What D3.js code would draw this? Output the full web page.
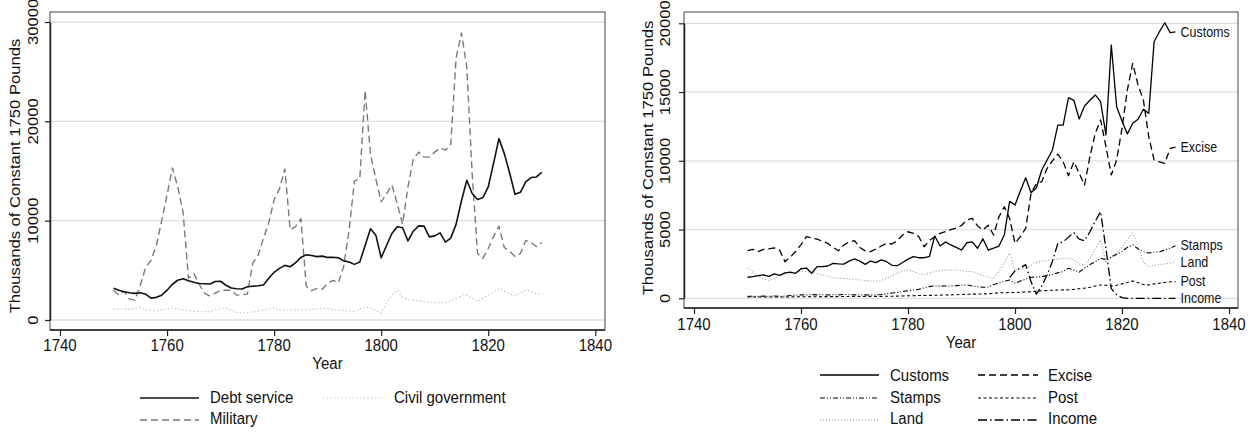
<!DOCTYPE html>
<html>
<head>
<meta charset="utf-8">
<script src="https://cdn.jsdelivr.net/npm/d3@7"></script>
<style>
  body { margin: 0; background: #fff; }
  svg { display: block; font-family: "Liberation Sans", Arial, Helvetica, sans-serif; }
</style>
</head>
<body>
<svg width="1259" height="433"></svg>
<script>
// Data (thousands of constant 1750 pounds), one value per year 1750-1830
const years = d3.range(1750, 1831);
const x_ticks = [1740, 1760, 1780, 1800, 1820, 1840];
const left_y_ticks = [0, 10000, 20000, 30000];
const right_y_ticks = [0, 5000, 10000, 15000, 20000];

const debt_service = [3200, 3000, 2850, 2750, 2680, 2750, 2600, 2200, 2280, 2500,
  3000, 3600, 4000, 4150, 3950, 3800, 3680, 3650, 3620, 3880,
  3900, 3500, 3220, 3150, 3120, 3350, 3400, 3450, 3520, 4200,
  4800, 5200, 5500, 5360, 5760, 6300, 6560, 6500, 6380, 6430,
  6300, 6300, 6260, 5950, 5830, 5600, 5830, 7500, 9180, 8540,
  6260, 7500, 8710, 9380, 9280, 7970, 8940, 9480, 9450, 8370,
  8470, 8770, 7840, 8240, 9650, 12000, 14070, 12730, 12130, 12330,
  13400, 15800, 18260, 16750, 14800, 12660, 12860, 13900, 14340, 14400,
  14870];
const military = [3000, 2500, 2900, 2100, 2000, 3500, 5300, 6000, 7500, 10000,
  12600, 15300, 13400, 10800, 4200, 4700, 3600, 2700, 2400, 2700,
  3000, 3000, 3000, 2500, 2550, 2600, 5700, 6500, 8200, 9800,
  12100, 13200, 15200, 9100, 9400, 10200, 3400, 2950, 3180, 3100,
  3700, 4000, 3750, 5400, 9000, 14000, 14200, 23100, 16700, 14200,
  11900, 12700, 13600, 11700, 9650, 13400, 16200, 16900, 16400, 16400,
  16900, 17300, 17100, 17700, 26400, 28900, 25400, 14700, 6700, 6200,
  7200, 8400, 9450, 7300, 6900, 6400, 6700, 8000, 7800, 7400,
  7800];
const civil_government = [1100, 1100, 1100, 1050, 1200, 1250, 1000, 950, 900, 1050,
  1100, 1200, 1100, 1000, 950, 900, 850, 850, 800, 1000,
  1150, 1250, 1000, 750, 700, 750, 800, 900, 1000, 1100,
  1250, 1000, 1000, 1050, 1000, 1050, 1050, 1100, 1100, 1150,
  1150, 1050, 1000, 950, 900, 850, 1100, 1350, 1200, 1000,
  700, 1700, 2500, 3000, 2300, 2100, 2000, 1950, 1850, 1800,
  1750, 1800, 1700, 1900, 2200, 2400, 2500, 2200, 1850, 2200,
  2500, 2800, 3200, 2900, 2600, 2500, 2700, 3000, 2900, 2600,
  2700];

const customs = [1530, 1580, 1650, 1700, 1600, 1770, 1670, 1850, 1900, 1820,
  2150, 2200, 1820, 2300, 2300, 2350, 2540, 2500, 2490, 2700,
  2860, 2700, 2470, 2710, 2590, 2790, 2660, 2400, 2370, 2600,
  2850, 3030, 2950, 2950, 3030, 4530, 3800, 4100, 3880, 3700,
  3510, 4040, 4100, 3640, 4330, 3510, 3650, 3800, 4600, 7050,
  6790, 7800, 8770, 7680, 8040, 9330, 10060, 10790, 12600, 12600,
  14590, 14400, 13040, 13990, 14400, 14790, 14300, 11880, 18420, 13930,
  12900, 11950, 12730, 13020, 13750, 13450, 18660, 19390, 20040, 19320,
  19370];
const excise = [3460, 3560, 3390, 3560, 3600, 3660, 3510, 2660, 3000, 3400,
  3900, 4480, 4400, 4300, 4150, 4000, 3700, 3460, 3880, 4100,
  4190, 3700, 3450, 3390, 3590, 3800, 4000, 3950, 4200, 4600,
  4840, 4730, 4500, 3750, 4200, 4480, 4730, 4850, 5000, 5100,
  5300, 5690, 5820, 5260, 4970, 5310, 4600, 5930, 6660, 5800,
  4000, 4480, 5090, 7640, 8360, 8480, 9450, 10000, 10490, 9930,
  8920, 9930, 9090, 8240, 10300, 12000, 12970, 11030, 8970, 10060,
  12360, 15150, 17090, 15500, 14420, 11750, 10060, 9930, 9820, 10910,
  11000];
const stamps = [150, 150, 140, 160, 150, 170, 140, 160, 200, 220,
  250, 240, 270, 250, 260, 240, 260, 250, 280, 260,
  250, 240, 250, 230, 250, 280, 320, 380, 420, 500,
  550, 600, 650, 750, 850, 900, 880, 890, 900, 920,
  950, 970, 900, 850, 800, 820, 1000, 1100, 1250, 1330,
  1090, 1250, 1400, 1530, 1550, 1570, 1650, 1750, 1850, 1950,
  2180, 2050, 1900, 2200, 2450, 2650, 2910, 2800, 3000, 3200,
  3400, 3700, 3880, 3600, 3390, 3300, 3350, 3390, 3500, 3650,
  3830];
const post = [100, 100, 90, 100, 90, 90, 100, 100, 100, 110,
  110, 110, 120, 110, 120, 120, 120, 130, 130, 130,
  130, 130, 140, 140, 140, 140, 150, 150, 160, 170,
  180, 190, 200, 200, 210, 220, 230, 240, 250, 260,
  280, 290, 300, 310, 320, 330, 360, 400, 410, 420,
  420, 440, 460, 480, 520, 550, 570, 590, 600, 610,
  620, 650, 700, 740, 800, 900, 970, 950, 890, 950,
  1050, 1150, 1260, 1150, 1000, 970, 1050, 1100, 1150, 1200,
  1210];
const land = [2200, 1900, 1600, 1400, 1300, 1400, 1650, 1750, 1800, 1900,
  1950, 1950, 1900, 1800, 1700, 1600, 1500, 1450, 1450, 1400,
  1380, 1330, 1300, 1260, 1250, 1300, 1450, 1650, 1850, 2000,
  2060, 1950, 1800, 1700, 1850, 1950, 2010, 2050, 2060, 2060,
  2000, 1950, 1940, 1800, 1650, 1530, 1450, 1940, 2600, 3270,
  2060, 2100, 2180, 2400, 2600, 2700, 2750, 2790, 2850, 2900,
  2910, 2800, 2500, 2420, 2900, 3600, 4240, 2550, 3000, 3300,
  3700, 4300, 4730, 3800, 2600, 2300, 2400, 2450, 2500, 2550,
  2660];
const income = [null, null, null, null, null, null, null, null, null, null,
  null, null, null, null, null, null, null, null, null, null,
  null, null, null, null, null, null, null, null, null, null,
  null, null, null, null, null, null, null, null, null, null,
  null, null, null, null, null, null, null, null, null, 1500,
  2000, 2200, 2450, 1200, 300, 900, 1700, 2700, 4000, 4100,
  4450, 4770, 4300, 4190, 4840, 5600, 6300, 3600, 700, 250,
  50, 0, 0, 0, 0, 0, 0, 0, 0, 0,
  0];

// Series styles
const left_series = [
  { name: 'Debt service', values: debt_service, color: '#111', width: 1.6, dash: null },
  { name: 'Military', values: military, color: '#7a7a7a', width: 1.4, dash: '7,4' },
  { name: 'Civil government', values: civil_government, color: '#bdbdbd', width: 1.2, dash: '1.2,2.5' },
];
const right_series = [
  { name: 'Customs', values: customs, color: '#000', width: 1.3, dash: null },
  { name: 'Excise', values: excise, color: '#000', width: 1.3, dash: '7,4' },
  { name: 'Stamps', values: stamps, color: '#000', width: 1.1, dash: '5,2,1,2,1,2' },
  { name: 'Post', values: post, color: '#000', width: 1.1, dash: '3,2.5' },
  { name: 'Land', values: land, color: '#999', width: 1.1, dash: '1,2' },
  { name: 'Income', values: income, color: '#000', width: 1.3, dash: '9,3,1.5,3' },
];

const svg = d3.select('svg');
const font_size = 15;
const stretch = 1.11; // the picture is a little taller than it is wide

const panels = [
  {
    series: left_series, y_ticks: left_y_ticks, y_max: 30000,
    frame: { x0: 50, x1: 605, y0: 12, y1: 330 },
    x_range: [60, 595.3], y_range: [320, 22],
    tick_label_x: 38, title_x: 20, title_y: 176, x_label_y: 350.5, year_y: 369,
    legend: {
      rows: [398, 420], text_rows: [402.5, 424],
      cols: [{ x0: 140, x1: 199, tx: 210 }, { x0: 323, x1: 383, tx: 394 }],
      items: [[0, 0, 0], [2, 0, 1], [1, 1, 0]]  // series, row, col
    },
    end_labels: false
  },
  {
    series: right_series, y_ticks: right_y_ticks, y_max: 20000,
    frame: { x0: 684, x1: 1238, y0: 12, y1: 308 },
    x_range: [694, 1229], y_range: [298.3, 23.3],
    tick_label_x: 670, title_x: 653, title_y: 158, x_label_y: 330, year_y: 348,
    legend: {
      rows: [375, 398, 420], text_rows: [380.5, 402.5, 424],
      cols: [{ x0: 820, x1: 879, tx: 890 }, { x0: 978, x1: 1038, tx: 1048 }],
      items: [[0, 0, 0], [1, 0, 1], [2, 1, 0], [3, 1, 1], [4, 2, 0], [5, 2, 1]]
    },
    end_labels: true
  }
];

// horizontal text, stretched vertically
const h_text = (g, x, y, str, size, anchor) => g.append('text')
  .attr('transform', `translate(${x},${y}) scale(1,${stretch})`)
  .attr('text-anchor', anchor || 'start')
  .attr('font-size', size || font_size)
  .attr('fill', '#111')
  .text(str);

// vertical text, stretched along its length
const v_text = (g, x, y, str) => g.append('text')
  .attr('transform', `translate(${x},${y}) rotate(-90) scale(${stretch},1)`)
  .attr('text-anchor', 'middle')
  .attr('font-size', font_size)
  .attr('fill', '#111')
  .text(str);

const render = p => {
  const f = p.frame;
  const x_scale = d3.scaleLinear().domain([1740, 1840]).range(p.x_range);
  const y_scale = d3.scaleLinear().domain([0, p.y_max]).range(p.y_range);
  const g = svg.append('g');

  // Gridlines
  g.selectAll('.grid')
    .data(p.y_ticks)
    .enter()
    .append('line')
    .attr('x1', f.x0).attr('x2', f.x1)
    .attr('y1', d => y_scale(d)).attr('y2', d => y_scale(d))
    .attr('stroke', '#dedede')
    .attr('stroke-width', 1.3);

  // Frame
  g.append('rect')
    .attr('x', f.x0).attr('y', f.y0)
    .attr('width', f.x1 - f.x0).attr('height', f.y1 - f.y0)
    .attr('fill', 'none')
    .attr('stroke', '#444')
    .attr('stroke-width', 1);

  // Y axis
  const y_axis = g.append('g')
    .attr('transform', `translate(${f.x0},0)`)
    .call(d3.axisLeft(y_scale).tickValues(p.y_ticks).tickSize(5).tickSizeOuter(0).tickFormat(''));
  y_axis.select('.domain').attr('stroke', '#222').attr('stroke-width', 1.5);
  y_axis.selectAll('.tick line').attr('stroke', '#222').attr('stroke-width', 1.2);
  p.y_ticks.forEach(d => v_text(g, p.tick_label_x, y_scale(d), d));
  v_text(g, p.title_x, p.title_y, 'Thousands of Constant 1750 Pounds');

  // X axis
  const x_axis = g.append('g')
    .attr('transform', `translate(0,${f.y1})`)
    .call(d3.axisBottom(x_scale).tickValues(x_ticks).tickSize(6).tickSizeOuter(0).tickFormat(''));
  x_axis.select('.domain').attr('stroke', '#222').attr('stroke-width', 1.5)
    .attr('d', `M${f.x0},0H${f.x1}`);
  x_axis.selectAll('.tick line').attr('stroke', '#222').attr('stroke-width', 1.2);
  x_ticks.forEach(d => h_text(g, x_scale(d), p.x_label_y, d, font_size, 'middle'));
  h_text(g, (f.x0 + f.x1) / 2, p.year_y, 'Year', font_size, 'middle');

  // Lines
  const line = d3.line()
    .defined(d => d[1] !== null)
    .x(d => x_scale(d[0]))
    .y(d => y_scale(d[1]));
  p.series.slice().reverse().forEach(s => {
    g.append('path')
      .datum(years.map((yr, i) => [yr, s.values[i]]))
      .attr('d', line)
      .attr('fill', 'none')
      .attr('stroke', s.color)
      .attr('stroke-width', s.width)
      .attr('stroke-dasharray', s.dash)
      .attr('stroke-linejoin', 'round');
  });

  // End labels
  if (p.end_labels) {
    p.series.forEach(s => {
      const last = s.values[s.values.length - 1];
      h_text(g, x_scale(years[years.length - 1]) + 5, y_scale(last) + 4.8, s.name, 12.5);
    });
  }

  // Legend
  const lg = p.legend;
  lg.items.forEach(([si, r, c]) => {
    const s = p.series[si];
    const col = lg.cols[c];
    g.append('line')
      .attr('x1', col.x0).attr('x2', col.x1)
      .attr('y1', lg.rows[r]).attr('y2', lg.rows[r])
      .attr('stroke', s.color)
      .attr('stroke-width', s.width)
      .attr('stroke-dasharray', s.dash);
    h_text(g, col.tx, lg.text_rows[r], s.name);
  });
};

panels.forEach(render);
</script>
</body>
</html>
